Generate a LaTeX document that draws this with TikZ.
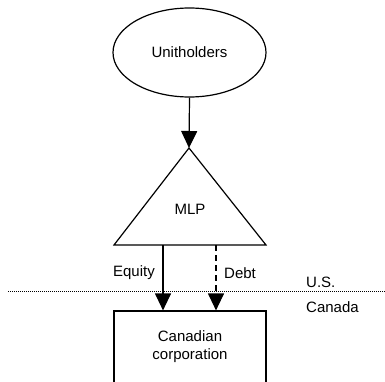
\documentclass[tikz,border=0pt]{standalone}
\usepackage{fontspec}
\setmainfont{Liberation Sans}
\usetikzlibrary{arrows.meta,shapes.geometric}

\tikzset{
  owner/.style={draw,ellipse,line width=1.2pt,minimum width=153pt,minimum height=89pt,inner sep=0pt},
  corp/.style={draw,rectangle,line width=1.2pt,minimum width=152pt,minimum height=72pt,align=center},
  flow/.style={line width=1.2pt,-{Triangle[length=17pt,width=16pt]}},
  lbl/.style={inner sep=0pt}
}

\begin{document}
\begin{tikzpicture}[x=1pt,y=1pt,font=\fontsize{15}{18}\selectfont]
\useasboundingbox (0,0) rectangle (385,381);

% unitholders on top
\node[owner] (uh) at (189.5,328.5) {Unitholders};

% the MLP triangle
\coordinate (apex) at (189,233);
\coordinate (bl) at (114,136);
\coordinate (br) at (266,136);
\draw[line width=1.2pt,line join=miter] (apex) -- (br) -- (bl) -- cycle;
\node[lbl] (mlp) at (190,172) {MLP};

% canadian corporation (runs off the bottom)
\node[corp] (cc) at (190,34) {Canadian\\corporation};

% border between the countries
\coordinate (bw) at (8,90);
\coordinate (be) at (385,90);
\draw[line width=0.8pt,dash pattern=on 1pt off 1pt] (bw) -- (be);
\node[lbl,anchor=west] (us) at (306,99) {U.S.};
\node[lbl,anchor=west] (ca) at (306,74) {Canada};

% arrows
\draw[flow] (uh.south) -- (apex);

\coordinate (eq) at (163,136);
\coordinate (db) at (216,136);
\draw[flow] (eq) -- (eq |- cc.north);
\draw[flow,dash pattern=on 6pt off 4pt] (db) -- (db |- cc.north);

\node[lbl,anchor=east] (eqlbl) at (155,108) {Equity};
\node[lbl,anchor=west] (dblbl) at (224,108) {Debt};

\end{tikzpicture}
\end{document}
